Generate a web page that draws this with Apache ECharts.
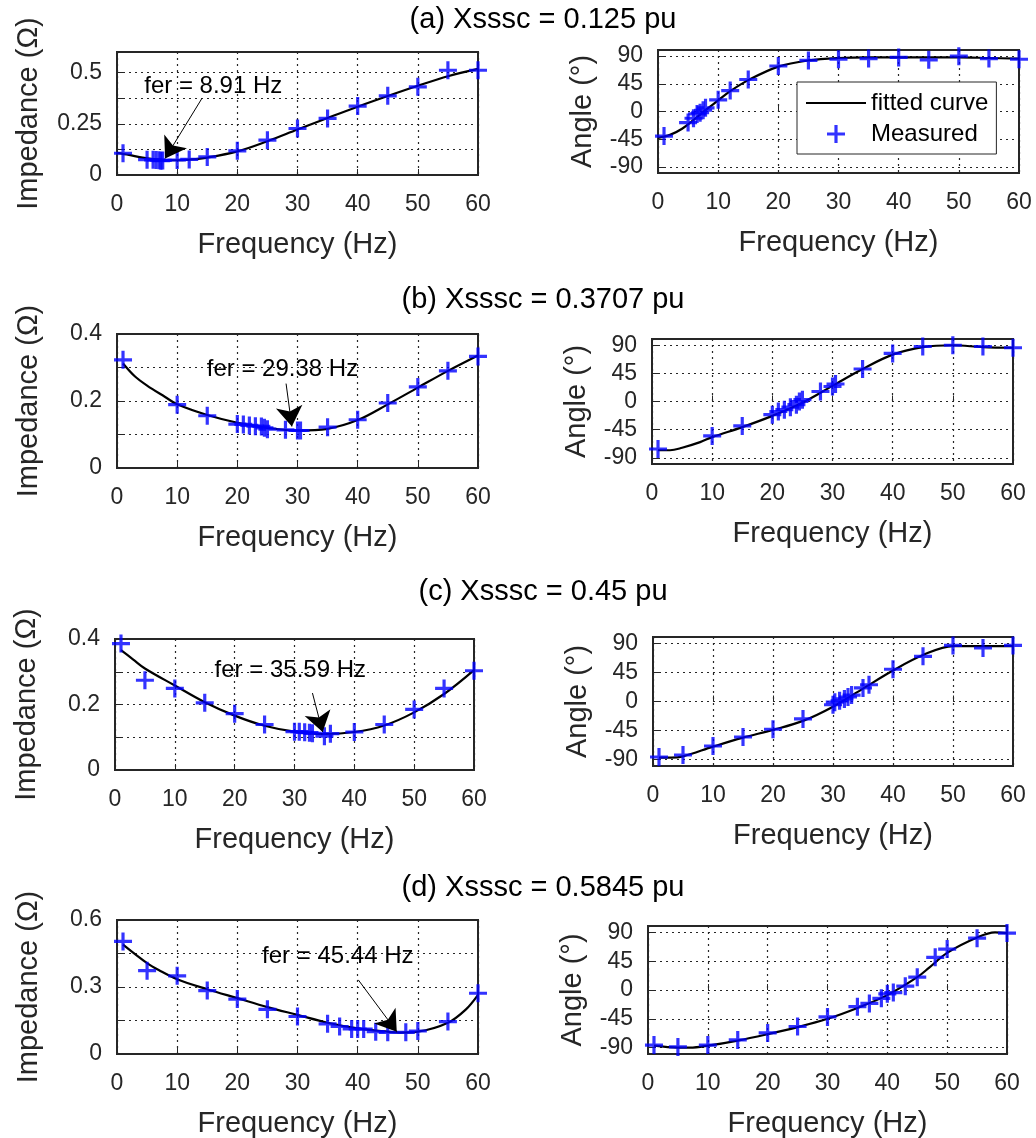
<!DOCTYPE html>
<html><head><meta charset="utf-8">
<script src="https://cdn.jsdelivr.net/npm/echarts@6/dist/echarts.min.js"></script>
<style>html,body{margin:0;padding:0;background:#fff}#c{width:1036px;height:1138px}</style>
</head><body><div id="c"></div>
<script>
// ---------- DATA ----------
const panelTitles = ['(a) Xsssc = 0.125 pu', '(b) Xsssc = 0.3707 pu', '(c) Xsssc = 0.45 pu', '(d) Xsssc = 0.5845 pu'];
const xTickValues = [0, 10, 20, 30, 40, 50, 60];
const angleTicks = [-90, -45, 0, 45, 90];

// (a) Xsssc = 0.125 pu
const impFreqA = [1, 5, 6, 6.5, 7, 7.3, 7.6, 10, 12, 15, 20, 25, 30, 35, 40, 45, 50, 55, 60];
const impMeasA = [0.106, 0.075, 0.074, 0.073, 0.072, 0.070, 0.071, 0.073, 0.076, 0.088, 0.118, 0.170, 0.227, 0.276, 0.336, 0.386, 0.430, 0.511, 0.511];
const angFreqA = [1, 5, 5.9, 6.5, 7, 7.5, 7.9, 10, 12, 15, 20, 25, 30, 35, 40, 45, 50, 55, 60];
const angMeasA = [-40, -18, -11, -4, -2, 2, 6, 19, 34, 52, 74, 83, 85, 86, 88, 84, 90, 86, 85];
const fitFreqA = [0, 2, 4, 6, 8, 10, 12, 15, 20, 25, 30, 35, 40, 45, 50, 55, 60];
const fitImpA = [0.108, 0.098, 0.086, 0.077, 0.072, 0.072, 0.075, 0.085, 0.115, 0.165, 0.222, 0.278, 0.333, 0.385, 0.435, 0.482, 0.518];
const fitAngA = [-43, -38, -28, -13, 3, 18, 33, 51, 73, 83, 87, 88, 88, 88, 88, 87, 86];
const impTicksA = [0, 0.125, 0.25, 0.375, 0.5];
const impLabelsA = [0, 0.25, 0.5];

// (b) Xsssc = 0.3707 pu
const measFreqB = [1, 10, 15, 20, 21, 22, 23, 24, 24.5, 25, 28, 30, 30.5, 35, 40, 45, 50, 55, 60];
const impMeasB = [0.323, 0.189, 0.156, 0.131, 0.130, 0.127, 0.125, 0.124, 0.120, 0.116, 0.114, 0.112, 0.112, 0.122, 0.144, 0.194, 0.242, 0.290, 0.333];
const angMeasB = [-76, -55, -39, -21, -16, -13, -9, -5, 0, 3, 16, 24, 28, 52, 77, 88, 90, 88, 86];
const fitFreqB = [1, 3, 5, 8, 10, 15, 20, 25, 30, 35, 40, 45, 50, 55, 60];
const fitImpB = [0.312, 0.273, 0.246, 0.212, 0.190, 0.158, 0.135, 0.120, 0.112, 0.117, 0.143, 0.190, 0.240, 0.290, 0.336];
const fitAngB = [-78, -78, -74, -65, -57, -41, -23, -2, 25, 52, 75, 87, 90, 87, 86];
const impTicksB = [0, 0.1, 0.2, 0.3, 0.4];
const impLabelsB = [0, 0.2, 0.4];

// (c) Xsssc = 0.45 pu
const impFreqC = [1, 5, 10, 15, 20, 25, 30, 30.8, 31.7, 32.5, 33, 35, 36, 40, 45, 50, 55, 60];
const impMeasC = [0.386, 0.274, 0.249, 0.205, 0.172, 0.139, 0.117, 0.117, 0.115, 0.114, 0.112, 0.103, 0.111, 0.116, 0.139, 0.185, 0.249, 0.303];
const angFreqC = [1, 5, 10, 15, 20, 25, 30, 30.3, 31.1, 31.9, 32.5, 33.1, 35, 36, 40, 45, 50, 55, 60];
const angMeasC = [-86, -83, -69, -55, -43, -27, -5, -1, 1, 4, 7, 10, 21, 26, 50, 70, 87, 83, 87];
const fitFreqC = [1, 3, 5, 10, 15, 20, 25, 30, 35, 40, 45, 50, 55, 60];
const fitImpC = [0.366, 0.338, 0.310, 0.258, 0.207, 0.166, 0.135, 0.117, 0.110, 0.116, 0.136, 0.176, 0.232, 0.305];
const fitAngC = [-87, -87, -85, -70, -56, -44, -30, -8, 20, 48, 72, 86, 86, 86];
const impTicksC = [0, 0.1, 0.2, 0.3, 0.4];
const impLabelsC = [0, 0.2, 0.4];

// (d) Xsssc = 0.5845 pu
const measFreqD = [1, 5, 10, 15, 20, 25, 30, 35, 37, 39, 40, 41, 43, 45, 48, 50, 55, 60];
const impMeasD = [0.504, 0.373, 0.350, 0.284, 0.246, 0.200, 0.168, 0.135, 0.123, 0.112, 0.112, 0.112, 0.100, 0.097, 0.097, 0.103, 0.145, 0.272];
const angMeasD = [-86, -89, -86, -78, -67, -57, -42, -26, -21, -13, -6, -4, 6, 20, 51, 64, 81, 89];
const fitFreqD = [1, 5, 7, 10, 15, 20, 25, 30, 35, 40, 45, 47, 50, 55, 58, 60];
const fitImpD = [0.490, 0.407, 0.375, 0.335, 0.290, 0.250, 0.210, 0.175, 0.140, 0.115, 0.100, 0.096, 0.100, 0.140, 0.200, 0.265];
const fitAngD = [-87, -90, -90, -87, -79, -69, -58, -45, -28, -8, 20, 35, 58, 82, 90, 89];
const impTicksD = [0, 0.15, 0.3, 0.45, 0.6];
const impLabelsD = [0, 0.3, 0.6];

// resonance annotations (text, text anchor, arrow start, arrow tip) in data units
const annTexts = ['fer = 8.91 Hz', 'fer = 29.38 Hz', 'fer = 35.59 Hz', 'fer = 45.44 Hz'];
const annTextAt = [[16, 0.43], [27.5, 0.293], [29.3, 0.303], [36.7, 0.437]];
const annFrom = [[14.1, 0.373], [28.1, 0.252], [33.0, 0.235], [40.1, 0.332]];
const annTo = [[8.0, 0.081], [29.06, 0.124], [34.7, 0.116], [46.5, 0.100]];

// ---------- CHART ----------
const zip = (a, b) => a.map((v, i) => [v, b[i]]);
const FONT = '"Liberation Sans", Arial, Helvetica, sans-serif';
const TXT = '#262626';
const PLUS = 'path://M7,0H10V7H17V10H10V17H7V10H0V7H7Z';

const panels = [
  {rect: [117, 52, 361, 123], kind: 'imp', max: 0.6, ticks: impTicksA, labels: impLabelsA, mf: impFreqA, mv: impMeasA, ff: fitFreqA, fv: fitImpA, ann: 0},
  {rect: [658, 50, 361, 123], kind: 'ang', mf: angFreqA, mv: angMeasA, ff: fitFreqA, fv: fitAngA, legend: true},
  {rect: [117, 334, 361, 134], kind: 'imp', max: 0.4, ticks: impTicksB, labels: impLabelsB, mf: measFreqB, mv: impMeasB, ff: fitFreqB, fv: fitImpB, ann: 1},
  {rect: [652, 339, 361, 125], kind: 'ang', mf: measFreqB, mv: angMeasB, ff: fitFreqB, fv: fitAngB},
  {rect: [115, 639, 359, 131], kind: 'imp', max: 0.4, ticks: impTicksC, labels: impLabelsC, mf: impFreqC, mv: impMeasC, ff: fitFreqC, fv: fitImpC, ann: 2},
  {rect: [653, 637, 360, 129], kind: 'ang', mf: angFreqC, mv: angMeasC, ff: fitFreqC, fv: fitAngC},
  {rect: [117, 920, 361, 134], kind: 'imp', max: 0.6, ticks: impTicksD, labels: impLabelsD, mf: measFreqD, mv: impMeasD, ff: fitFreqD, fv: fitImpD, ann: 3},
  {rect: [648, 926, 359, 128], kind: 'ang', mf: measFreqD, mv: angMeasD, ff: fitFreqD, fv: fitAngD}
];

const grids = [], xAxes = [], yAxes = [], series = [];
const splitStyle = {show: true, lineStyle: {type: [2, 4], color: TXT, width: 1.2}};
panels.forEach((p, i) => {
  grids.push({left: p.rect[0], top: p.rect[1], width: p.rect[2], height: p.rect[3], show: true,
    borderColor: TXT, borderWidth: 2, backgroundColor: 'transparent', containLabel: false, outerBoundsMode: 'none'});
  xAxes.push({gridIndex: i, type: 'value', min: 0, max: 60, interval: 10,
    axisLine: {show: false},
    axisTick: {show: true, inside: true, length: 6, lineStyle: {color: TXT, width: 1}},
    axisLabel: {fontSize: 23, color: TXT, margin: 18, fontFamily: FONT, customValues: xTickValues},
    splitLine: splitStyle,
    name: 'Frequency (Hz)', nameLocation: 'middle', nameGap: 55,
    nameTextStyle: {fontSize: 29, color: TXT, fontFamily: FONT}});
  const isImp = p.kind === 'imp';
  const ticks = isImp ? p.ticks : angleTicks;
  const labels = isImp ? p.labels : angleTicks;
  yAxes.push({gridIndex: i, type: 'value', min: isImp ? 0 : -100, max: isImp ? p.max : 100,
    axisLine: {show: false},
    axisTick: {show: true, inside: true, length: 6, lineStyle: {color: TXT, width: 1}, customValues: ticks},
    axisLabel: {fontSize: 23, color: TXT, margin: 15, fontFamily: FONT, customValues: labels},
    splitLine: splitStyle,
    name: isImp ? 'Impedance (Ω)' : 'Angle (°)', nameLocation: 'middle', nameRotate: 90,
    nameGap: isImp ? 74 : 61,
    nameTextStyle: {fontSize: 29, color: TXT, fontFamily: FONT}});
  series.push({type: 'line', name: p.legend ? 'fitted curve' : 'fit' + i, xAxisIndex: i, yAxisIndex: i,
    data: zip(p.ff, p.fv), smooth: 0.35, symbol: 'none', showSymbol: false,
    lineStyle: {color: '#000', width: 2.2}, itemStyle: {color: '#000'}, z: 2, animation: false, silent: true});
  const meas = {type: 'scatter', name: p.legend ? 'Measured' : 'meas' + i, xAxisIndex: i, yAxisIndex: i,
    data: zip(p.mf, p.mv), symbol: PLUS, symbolSize: 18, symbolKeepAspect: true,
    itemStyle: {color: '#0000ff'}, z: 3, animation: false, silent: true};
  if (p.ann !== undefined) {
    const k = p.ann;
    meas.markLine = {silent: true, animation: false, symbol: ['none', 'arrow'], symbolSize: 20,
      label: {show: false}, lineStyle: {color: '#000', width: 1, type: 'solid'},
      emphasis: {disabled: true},
      data: [[{coord: annFrom[k]}, {coord: annTo[k]}]]};
    meas.markPoint = {silent: true, animation: false, symbol: 'circle', symbolSize: 1,
      itemStyle: {color: 'rgba(0,0,0,0)'},
      label: {show: true, position: 'inside', fontSize: 24, color: '#000', fontFamily: FONT},
      data: [{coord: annTextAt[k], value: annTexts[k], label: {formatter: annTexts[k]}}]};
  }
  series.push(meas);
});

const titleTops = [0, 280, 572, 868];
const option = {
  animation: false,
  backgroundColor: '#fff',
  textStyle: {fontFamily: FONT},
  title: panelTitles.map((t, i) => ({text: t, left: 538, top: titleTops[i], textAlign: 'center',
    textStyle: {fontSize: 29, fontWeight: 'normal', color: '#000', fontFamily: FONT}})),
  legend: {data: [{name: 'fitted curve', itemStyle: {opacity: 0}}, {name: 'Measured'}], orient: 'vertical', left: 797, top: 82,
    padding: [9, 8, 8, 8], itemGap: 7, itemWidth: 60, itemHeight: 18,
    backgroundColor: '#fff', borderColor: TXT, borderWidth: 1, borderRadius: 0,
    textStyle: {fontSize: 24, color: '#000', fontFamily: FONT}, selectedMode: false, z: 10},
  grid: grids, xAxis: xAxes, yAxis: yAxes, series: series
};
const chart = echarts.init(document.getElementById('c'), null, {renderer: 'canvas'});
chart.setOption(option);
</script></body></html>
